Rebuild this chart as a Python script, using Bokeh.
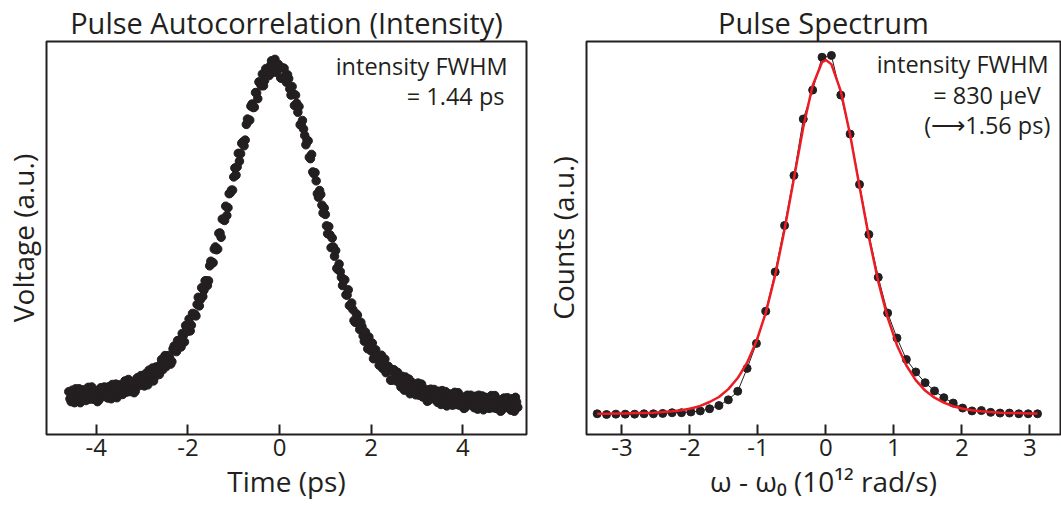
from bokeh.plotting import figure
from bokeh.layouts import row
from bokeh.models import Range1d, FixedTicker, Label
from bokeh.embed import file_html
from bokeh.resources import INLINE

INK = "#231f20"
RED = "#ed1c24"
FONT = "Open Sans"

# ---------------- data: autocorrelation (left) ----------------
# two interleaved sweeps sampled every 0.05 ps, offset by 0.025 ps
ac_time_start_a = -4.6
ac_time_start_b = -4.575
ac_time_step = 0.05
ac_voltage_a = [
    0.120, 0.092, 0.113, 0.128, 0.101, 0.089, 0.125, 0.108, 0.119, 0.099, 0.133, 0.107, 0.115, 0.095, 0.131, 0.106,
    0.129, 0.102, 0.123, 0.140, 0.113, 0.103, 0.139, 0.124, 0.137, 0.118, 0.154, 0.130, 0.138, 0.121, 0.159, 0.137,
    0.162, 0.136, 0.161, 0.180, 0.157, 0.150, 0.189, 0.178, 0.195, 0.181, 0.221, 0.201, 0.216, 0.204, 0.248, 0.232,
    0.263, 0.245, 0.277, 0.305, 0.289, 0.290, 0.339, 0.337, 0.364, 0.360, 0.411, 0.404, 0.430, 0.430, 0.485, 0.481,
    0.525, 0.519, 0.564, 0.603, 0.599, 0.613, 0.674, 0.684, 0.721, 0.726, 0.787, 0.786, 0.819, 0.824, 0.883, 0.880,
    0.925, 0.916, 0.956, 0.987, 0.976, 0.976, 1.024, 1.014, 1.032, 1.014, 1.050, 1.021, 1.025, 0.997, 1.025, 0.986,
    0.996, 0.950, 0.954, 0.950, 0.902, 0.867, 0.879, 0.837, 0.823, 0.776, 0.784, 0.730, 0.710, 0.664, 0.672, 0.620,
    0.616, 0.562, 0.559, 0.550, 0.499, 0.465, 0.477, 0.440, 0.431, 0.391, 0.405, 0.360, 0.350, 0.314, 0.334, 0.294,
    0.302, 0.261, 0.269, 0.273, 0.234, 0.212, 0.237, 0.211, 0.214, 0.185, 0.211, 0.178, 0.178, 0.152, 0.181, 0.150,
    0.167, 0.133, 0.150, 0.161, 0.129, 0.114, 0.145, 0.125, 0.133, 0.110, 0.141, 0.112, 0.117, 0.095, 0.127, 0.100,
    0.120, 0.090, 0.109, 0.123, 0.093, 0.080, 0.114, 0.096, 0.106, 0.084, 0.117, 0.090, 0.096, 0.075, 0.110, 0.083,
    0.105, 0.075, 0.095, 0.110, 0.081, 0.069, 0.104, 0.086, 0.097, 0.075, 0.109, 0.081, 0.088, 0.068, 0.102, 0.076,
    0.098, 0.068, 0.089, 0.104, 0.076,
]
ac_voltage_b = [
    0.100, 0.124, 0.089, 0.116, 0.128, 0.098, 0.114, 0.095, 0.132, 0.108, 0.099, 0.123, 0.092, 0.127, 0.114, 0.133,
    0.110, 0.134, 0.100, 0.128, 0.141, 0.112, 0.129, 0.112, 0.150, 0.128, 0.120, 0.146, 0.117, 0.155, 0.144, 0.165,
    0.144, 0.170, 0.139, 0.169, 0.186, 0.161, 0.181, 0.168, 0.210, 0.193, 0.190, 0.221, 0.197, 0.240, 0.236, 0.263,
    0.249, 0.283, 0.259, 0.298, 0.323, 0.306, 0.336, 0.332, 0.384, 0.378, 0.386, 0.430, 0.417, 0.472, 0.479, 0.519,
    0.517, 0.563, 0.552, 0.602, 0.639, 0.635, 0.676, 0.684, 0.746, 0.749, 0.765, 0.815, 0.808, 0.868, 0.878, 0.919,
    0.915, 0.957, 0.940, 0.983, 1.009, 0.991, 1.016, 1.005, 1.046, 1.024, 1.014, 1.036, 0.998, 1.026, 1.002, 1.007,
    0.967, 0.974, 0.921, 0.927, 0.918, 0.865, 0.855, 0.811, 0.822, 0.772, 0.735, 0.733, 0.674, 0.683, 0.642, 0.634,
    0.584, 0.582, 0.523, 0.525, 0.515, 0.462, 0.456, 0.417, 0.433, 0.390, 0.361, 0.368, 0.319, 0.338, 0.310, 0.314,
    0.276, 0.287, 0.240, 0.255, 0.256, 0.216, 0.222, 0.194, 0.222, 0.190, 0.173, 0.191, 0.152, 0.181, 0.161, 0.174,
    0.145, 0.163, 0.124, 0.146, 0.155, 0.121, 0.133, 0.111, 0.144, 0.117, 0.105, 0.127, 0.093, 0.125, 0.110, 0.126,
    0.099, 0.121, 0.084, 0.109, 0.120, 0.088, 0.102, 0.082, 0.118, 0.093, 0.082, 0.105, 0.073, 0.107, 0.093, 0.110,
    0.084, 0.107, 0.071, 0.097, 0.108, 0.078, 0.092, 0.073, 0.109, 0.084, 0.073, 0.097, 0.065, 0.099, 0.085, 0.103,
    0.077, 0.100, 0.065, 0.091,
]
ac_time_a = [round(ac_time_start_a + ac_time_step * i, 3) for i in range(len(ac_voltage_a))]
ac_time_b = [round(ac_time_start_b + ac_time_step * i, 3) for i in range(len(ac_voltage_b))]
ac_ticks = [-4, -2, 0, 2, 4]
ac_tick_labels = ["-4", "-2", "0", "2", "4"]

# ---------------- data: spectrum (right) ----------------
spec_w = [-3.365, -3.227, -3.090, -2.952, -2.814, -2.676, -2.538, -2.401, -2.263, -2.125,
          -1.987, -1.849, -1.712, -1.574, -1.436, -1.298, -1.160, -1.023, -0.885, -0.747,
          -0.609, -0.471, -0.334, -0.196, -0.058, 0.080, 0.218, 0.355, 0.493, 0.631,
          0.769, 0.907, 1.044, 1.182, 1.320, 1.458, 1.596, 1.733, 1.871, 2.009,
          2.147, 2.285, 2.422, 2.560, 2.698, 2.836, 2.974, 3.111]
spec_counts = [0.058, 0.056, 0.057, 0.057, 0.057, 0.058, 0.058, 0.059, 0.061, 0.061,
               0.063, 0.066, 0.072, 0.081, 0.097, 0.121, 0.185, 0.255, 0.345, 0.455,
               0.585, 0.725, 0.883, 0.964, 1.056, 1.061, 0.950, 0.841, 0.700, 0.560,
               0.440, 0.340, 0.270, 0.210, 0.175, 0.145, 0.122, 0.103, 0.088, 0.074,
               0.066, 0.067, 0.062, 0.060, 0.060, 0.058, 0.058, 0.058]
fit_w = [-3.365, -3.227, -3.090, -2.952, -2.814, -2.676, -2.538, -2.401, -2.263, -2.125,
         -1.987, -1.849, -1.712, -1.574, -1.436, -1.298, -1.160, -1.023, -0.885, -0.747,
         -0.609, -0.471, -0.334, -0.196, -0.058, 0.000, 0.080, 0.218, 0.355, 0.493, 0.631,
         0.769, 0.907, 1.044, 1.182, 1.320, 1.458, 1.596, 1.733, 1.871, 2.009,
         2.147, 2.285, 2.422, 2.560, 2.698, 2.836, 2.974, 3.111]
fit_counts = [0.058, 0.058, 0.059, 0.059, 0.060, 0.060, 0.061, 0.063, 0.065, 0.068,
              0.073, 0.080, 0.091, 0.105, 0.127, 0.158, 0.201, 0.261, 0.341, 0.446,
              0.574, 0.717, 0.860, 0.977, 1.042, 1.048, 1.036, 0.961, 0.839, 0.694, 0.552,
              0.428, 0.327, 0.250, 0.193, 0.152, 0.123, 0.103, 0.089, 0.079, 0.072,
              0.068, 0.065, 0.063, 0.061, 0.060, 0.060, 0.059, 0.059]
spec_ticks = [-3, -2, -1, 0, 1, 2, 3]
spec_tick_labels = ["-3", "-2", "-1", "0", "1", "2", "3"]


def style(p, ticks, labels, xlabel, ylabel, title, title_offset):
    p.outline_line_color = INK
    p.outline_line_width = 2
    p.outline_line_alpha = 1
    p.xgrid.visible = False
    p.ygrid.visible = False
    p.background_fill_color = "white"
    p.border_fill_color = "white"

    p.title.text = title
    p.title.align = "center"
    p.title.offset = title_offset
    p.title.text_font = FONT
    p.title.text_font_size = "29px"
    p.title.text_font_style = "normal"
    p.title.text_color = INK
    p.title.standoff = 0

    ax = p.xaxis[0]
    ax.ticker = FixedTicker(ticks=ticks)
    ax.major_label_overrides = {t: l for t, l in zip(ticks, labels)}
    ax.minor_tick_line_color = None
    ax.axis_line_color = None
    ax.major_tick_in = 10
    ax.major_tick_out = 0
    ax.major_tick_line_width = 2
    ax.major_tick_line_color = INK
    ax.major_label_text_font = FONT
    ax.major_label_text_font_size = "24px"
    ax.major_label_text_color = INK
    ax.major_label_standoff = 4
    ax.axis_label = xlabel
    ax.axis_label_text_font = FONT
    ax.axis_label_text_font_size = "28px"
    ax.axis_label_text_font_style = "normal"
    ax.axis_label_text_color = INK
    ax.axis_label_standoff = 3

    ay = p.yaxis[0]
    ay.ticker = FixedTicker(ticks=[])
    ay.minor_tick_line_color = None
    ay.major_tick_line_color = None
    ay.axis_line_color = None
    ay.major_tick_in = 0
    ay.major_tick_out = 0
    ay.major_label_standoff = 0
    ay.axis_label = ylabel
    ay.axis_label_text_font = FONT
    ay.axis_label_text_font_size = "28px"
    ay.axis_label_text_font_style = "normal"
    ay.axis_label_text_color = INK
    ay.axis_label_standoff = 5


def note(p, x, y, text):
    p.add_layout(Label(x=x, y=y, text=text, text_align="right", text_baseline="middle",
                       text_font=FONT, text_font_size="23.5px", text_color=INK))


# ---------------- left panel ----------------
p1 = figure(width=540, height=505, x_range=Range1d(-5.087, 5.391), y_range=Range1d(0, 1.1),
            output_backend="svg", toolbar_location=None,
            min_border_left=44, min_border_right=14, min_border_top=39, min_border_bottom=71)
style(p1, ac_ticks, ac_tick_labels, "Time (ps)", "Voltage (a.u.)", "Pulse Autocorrelation (Intensity)", 8)
p1.scatter(ac_time_a, ac_voltage_a, size=8.5, color=INK, line_color=INK)
p1.scatter(ac_time_b, ac_voltage_b, size=8.5, color=INK, line_color=INK)
note(p1, 4.98, 1.031, "intensity FWHM")
note(p1, 4.91, 0.947, "= 1.44 ps")

# ---------------- right panel ----------------
p2 = figure(width=521, height=505, x_range=Range1d(-3.522, 3.449), y_range=Range1d(0, 1.1),
            output_backend="svg", toolbar_location=None,
            min_border_left=39, min_border_right=1, min_border_top=39, min_border_bottom=71)
style(p2, spec_ticks, spec_tick_labels, "ω - ω₀ (10¹² rad/s)", "Counts (a.u.)", "Pulse Spectrum", 0)
p2.line(spec_w, spec_counts, line_color=INK, line_width=1)
p2.scatter(spec_w, spec_counts, size=8, color=INK, line_color=INK)
p2.line(fit_w, fit_counts, line_color=RED, line_width=2.5)
note(p2, 3.275, 1.036, "intensity FWHM")
note(p2, 3.16, 0.950, "= 830 μeV")
note(p2, 3.30, 0.866, "(⟶1.56 ps)")

layout = row(p1, p2)
open("out.html", "w").write(file_html(layout, INLINE))
